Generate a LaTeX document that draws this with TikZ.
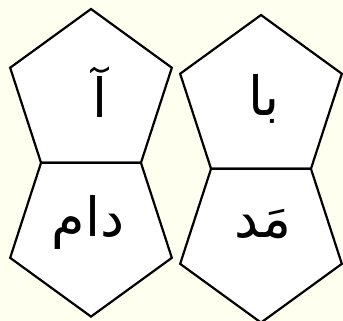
\documentclass[tikz,border=0pt]{standalone}
\usepackage{fontspec}
\usetikzlibrary{shapes.geometric}
\newfontfamily\arabicfont[Script=Arabic]{DejaVu Sans}
\TeXXeTstate=1
\definecolor{ivory}{RGB}{255,255,240}

\begin{document}
\begin{tikzpicture}[
  x=1pt, y=-1pt,
  pent/.style={regular polygon, regular polygon sides=5, minimum size=170pt,
               inner sep=0pt, draw=black, line width=2.2pt, fill=white},
  pentdown/.style={pent, shape border rotate=180},
  word/.style={font=\fontsize{54}{60}\selectfont\arabicfont, inner sep=0pt}
]
\useasboundingbox (0,0) rectangle (343,321);
\fill[ivory] (0,0) rectangle (343,321);

% pentagons
\node[pent]     (alefmadd) at (91,94)    {};
\node[pentdown] (daam)     at (91,231.6) {};
\node[pent]     (baa)      at (261,100)  {};
\node[pentdown] (madd)     at (261,237.6) {};

% words
\node[word] (walef) at (100,92)  {\beginR آ\endR};
\node[word] (wdaam) at (88,222)  {\beginR دام\endR};
\node[word] (wbaa)  at (264,99)  {\beginR با\endR};
\node[word] (wmadd) at (263,224) {\beginR مَد\endR};
\end{tikzpicture}
\end{document}
